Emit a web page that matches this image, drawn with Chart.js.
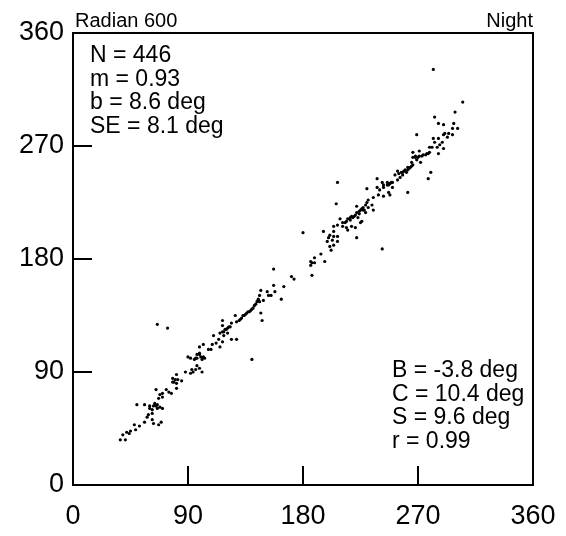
<!DOCTYPE html>
<html>
<head>
<meta charset="utf-8">
<script src="https://cdn.jsdelivr.net/npm/chart.js@4.4.1/dist/chart.umd.min.js"></script>
<style>
    html, body { margin: 0; padding: 0; background: #fff; }
    #wrap { width: 566px; height: 536px; }
</style>
</head>
<body>
<div id="wrap"><canvas id="scatter_chart" width="566" height="536"></canvas></div>
<script>
const tick_values = [0, 90, 180, 270, 360];
const inner_ticks = [90, 180, 270];

// reference direction (x) against measured direction (y), degrees
const x_deg = [
    37, 41, 39, 42, 44, 45, 48, 49, 52, 59, 58, 62, 63, 67, 69, 56, 50, 56, 60, 62,
    63, 64, 66, 68, 70, 62, 67, 68, 70, 70, 65, 73, 75, 77, 78, 78, 81, 82, 85, 81,
    81, 88, 92, 93, 94, 96, 97, 99, 101, 90, 92, 95, 97, 99, 101, 102, 99,
    60, 65, 66, 79, 80, 96, 100,
    157, 157, 165, 147, 152, 153, 155, 158, 163, 146, 145, 144, 146, 149, 142, 141, 139, 137, 136, 135,
    133, 132, 130, 128, 127, 147, 148, 124, 123, 121, 119, 117, 117, 117, 115, 121, 118, 114, 117, 124,
    128, 110, 112, 115, 109, 108, 106, 102, 99, 97, 140, 103,
    131, 134, 138, 140, 143, 145, 118, 120, 122,
    207, 230, 206, 230, 229, 227, 231, 226, 224, 229, 222, 222, 221, 218, 219, 223, 217, 226, 225, 214,
    213, 211, 214, 215, 218, 221, 209, 211, 207, 204, 204, 196, 180, 222, 201, 200, 204, 207, 203, 199,
    207, 204, 201, 202, 194, 189, 197, 186, 187, 189, 186, 171, 173, 187,
    215, 217, 220, 224, 228,
    269, 286, 293, 283, 289, 287, 281, 285, 290, 286, 266, 278, 276, 273, 270, 268, 266, 269, 272, 265,
    266, 264, 262, 260, 261, 258, 254, 258, 256, 252, 254, 250, 249, 247, 246, 250, 242, 243, 247, 248,
    240, 238, 239, 243, 235, 280, 278, 262, 234, 231, 225, 227, 235,
    268, 271, 274, 277, 279, 262, 263, 265, 255, 257, 259, 243, 246, 248,
    282, 305, 299, 283, 286, 290, 298, 301, 297, 291, 294, 290, 297, 282, 279, 271,
    242, 238, 66, 74
];
const y_deg = [
    36, 36, 40, 42, 41, 43, 48, 44, 47, 56, 54, 52, 49, 48, 50, 50, 64, 64, 61, 60,
    63, 65, 61, 62, 61, 57, 69, 72, 70, 73, 76, 76, 74, 73, 85, 82, 81, 84, 83, 77,
    88, 90, 89, 92, 90, 92, 95, 93, 90, 102, 101, 100, 101, 104, 100, 102, 110,
    63, 63, 64, 82, 84, 101, 102,
    172, 159, 158, 155, 154, 151, 151, 154, 148, 151, 148, 146, 146, 147, 143, 141, 139, 138, 137, 136,
    135, 133, 131, 130, 135, 137, 131, 129, 126, 125, 124, 131, 127, 122, 121, 121, 119, 116, 114, 116,
    116, 119, 113, 110, 112, 108, 108, 112, 105, 104, 100, 101,
    132, 135, 138, 140, 144, 147, 122, 124, 126,
    241, 236, 224, 225, 223, 221, 221, 220, 218, 217, 222, 217, 215, 214, 213, 213, 211, 210, 209, 210,
    209, 206, 205, 203, 206, 205, 212, 209, 207, 206, 202, 202, 201, 197, 199, 197, 198, 198, 195, 194,
    194, 191, 190, 187, 184, 181, 178, 178, 177, 177, 175, 166, 164, 167,
    212, 213, 214, 216, 219,
    279, 276, 277, 273, 273, 271, 269, 269, 268, 264, 265, 264, 263, 262, 261, 261, 261, 259, 257, 257,
    255, 253, 253, 251, 249, 249, 250, 247, 245, 247, 243, 241, 241, 239, 241, 237, 241, 237, 233, 231,
    235, 237, 231, 230, 229, 249, 244, 233, 223, 227, 219, 219, 219,
    262, 262, 263, 264, 265, 251, 252, 254, 248, 249, 250, 239, 239, 240,
    331, 305, 297, 293, 288, 287, 288, 284, 284, 280, 280, 279, 279, 276, 269, 266,
    188, 244, 128, 125
];

const title_left = "Radian 600";
const title_right = "Night";
const stats_left = ["N = 446", "m = 0.93", "b = 8.6 deg", "SE = 8.1 deg"];
const stats_right = ["B = -3.8 deg", "C = 10.4 deg", "S = 9.6 deg", "r = 0.99"];

const FONT = "'Liberation Sans', Arial, sans-serif";

// frame, inward tick marks and the text blocks
const frame_plugin = {
    id: 'frame_plugin',
    afterDraw(chart) {
        const ctx = chart.ctx;
        const a = chart.chartArea;
        const xs = chart.scales.x;
        const ys = chart.scales.y;
        ctx.save();
        ctx.strokeStyle = '#000';
        ctx.lineWidth = 2;
        ctx.strokeRect(a.left, a.top, a.right - a.left, a.bottom - a.top);
        ctx.beginPath();
        inner_ticks.forEach(v => {
            const px = xs.getPixelForValue(v);
            ctx.moveTo(px, a.bottom);
            ctx.lineTo(px, a.bottom - 19);
            const py = ys.getPixelForValue(v);
            ctx.moveTo(a.left, py);
            ctx.lineTo(a.left + 19, py);
        });
        ctx.stroke();

        ctx.fillStyle = '#000';
        ctx.font = `20px ${FONT}`;
        ctx.textBaseline = 'alphabetic';
        ctx.textAlign = 'left';
        ctx.fillText(title_left, a.left + 2, 27);
        ctx.textAlign = 'right';
        ctx.fillText(title_right, a.right, 27);

        ctx.font = `23px ${FONT}`;
        ctx.textAlign = 'left';
        ctx.textBaseline = 'middle';
        stats_left.forEach((t, i) => ctx.fillText(t, 90, 56 + i * 23.5));
        stats_right.forEach((t, i) => ctx.fillText(t, 392, 371 + i * 23.5));
        ctx.restore();
    }
};

const points = x_deg.map((x, i) => ({x: x, y: y_deg[i]}));

const chart = new Chart(document.getElementById('scatter_chart').getContext('2d'), {
    type: 'scatter',
    data: {
        datasets: [{
            data: points,
            backgroundColor: '#000',
            borderColor: '#000',
            borderWidth: 0,
            pointRadius: 1.6,
            pointHoverRadius: 1.6
        }]
    },
    options: {
        responsive: false,
        animation: false,
        devicePixelRatio: 1,
        layout: { padding: { top: 33, right: 33, left: 0, bottom: 0 } },
        plugins: { legend: { display: false }, tooltip: { enabled: false } },
        scales: {
            x: {
                type: 'linear',
                min: 0,
                max: 360,
                afterBuildTicks: (s) => { s.ticks = tick_values.map(v => ({value: v})); },
                afterFit: (s) => { s.height = 51; s.paddingLeft = 0; s.paddingRight = 0; },
                grid: { display: false, drawTicks: false },
                border: { display: false },
                ticks: { color: '#000', font: { family: FONT, size: 27 }, padding: 15, maxRotation: 0 }
            },
            y: {
                type: 'linear',
                min: 0,
                max: 360,
                afterBuildTicks: (s) => { s.ticks = tick_values.map(v => ({value: v})); },
                afterFit: (s) => { s.width = 73; s.paddingTop = 0; s.paddingBottom = 0; },
                grid: { display: false, drawTicks: false },
                border: { display: false },
                ticks: { color: '#000', font: { family: FONT, size: 27 }, padding: 9 }
            }
        }
    },
    plugins: [frame_plugin]
});
</script>
</body>
</html>
